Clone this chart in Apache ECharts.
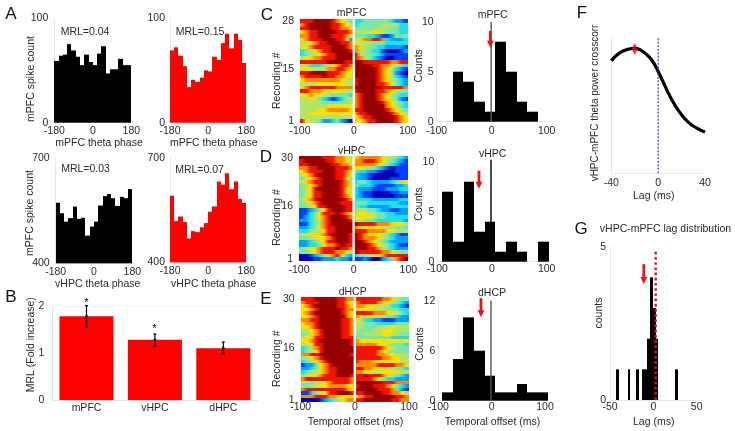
<!DOCTYPE html>
<html><head><meta charset="utf-8">
<style>html,body{margin:0;padding:0;background:#fff}#c{width:735px;height:431px}</style>
<script src="https://cdn.jsdelivr.net/npm/echarts@6/dist/echarts.min.js"></script>
</head><body><div id="c"></div>
<script>
// ---------- DATA ----------
const phaseEdges = [-180,-160,-140,-120,-100,-80,-60,-40,-20,0,20,40,60,80,100,120,140,160,180];
const a1Counts = [59,64,65,75,69,63,55,65,58,55,66,73,47,51,51,61,55,55];
const a2Counts = [69,72,64,54,34,41,39,43,50,49,63,60,76,85,71,85,79,57];
const a3Counts = [573,543,519,529,562,527,530,479,505,519,565,592,598,586,564,590,586,612];
const a4Counts = [592,519,532,516,469,490,487,501,513,546,561,633,624,657,611,633,583,571];
const mrlTexts = ['MRL=0.04','MRL=0.15','MRL=0.03','MRL=0.07'];

const bCategories = ['mPFC','vHPC','dHPC'];
const bValues = [1.775,1.277,1.10];
const bErrLow = [1.54,1.14,0.98];
const bErrHigh = [2.0,1.40,1.23];

const histCEdges = [-69.7,-51.5,-32.1,-12.7,6.7,26.1,45.5,64.8,83.6];
const histCCounts = [5,4,2,1,8,5,2,1];
const histDEdges = [-90.9,-71.3,-51.8,-32.9,-13.4,6.1,25.6,45.1,64.6,84.1,104.3];
const histDCounts = [7,2,8,3,4,1,2,1,0,2];
const histEEdges = [-92.5,-72.5,-53.1,-33.1,-13.1,6.9,26.9,46.9,66.9,86.9,106.3];
const histECounts = [1,5,10,6,3,1,1,2,1,1];

const fLags = [-40,-35,-30,-25,-20,-15,-10,-5,0,5,10,15,20,25,30,35,40];
const fCorr = [.824,.868,.895,.910,.915,.902,.871,.824,.745,.655,.565,.490,.428,.380,.346,.322,.302];

const gLeft = [-42.7,-29.6,-20,-13.5,-6.9,-3.5,0,3.1,25.4];
const gRight = [-39.6,-26.5,-16.9,-6.9,-3.5,0,3.1,5.8,28.5];
const gCounts = [1,1,1,1,2,4,3,2,1];

// heat levels: 0 deep blue ... 9 dark red; each row top to bottom, 12 cols before 0 and 12 after
const heatC = [
'888999987654 334444443221','789999988765 344444555533','889999988776 444445554433','678899998887 555566544433',
'778899988876 444332112444','678889998862 567788732223','556788999887 655544433333',
'667888899987 765443322221','345678899998 755433100012','345567889999 855443211111','566778889999 875432100111',
'888888999988 998888887788','553334567887 999988776543','666555778876 999998765321','889999888766 999998765210',
'788889887766 999998765321','677777777655 899998765432','555566666655 899998876432','678888887777 999999888887',
'887776666655 899998876544','667665544443 789998765433','556543212355 789998765421','555554444445 789999876543',
'555555666666 789999976543','555566777776 889999987654','556666666666 788999998765','555555555555 678899999876','865542234210 667889999876'];
const heatD = [
'999998887765 677777655432','899999887765 778887654321','889999988776 777776543211','778899998887 665543210111',
'678889998875 433221000111','567899998876 322100000011','456789998864 322100001111','567889999875 344322223456',
'456789999876 433321111223','456899999865 322211122233','456889999865 321100001122','456889999876 321100000111',
'567899999987 333322222233','456789999888 444333333322','445688999988 433222223333','112346899988 555443221122',
'113468889876 566554433222','123467899987 666654433333','223457899998 554443333332','113457899999 988887776665',
'223467889999 766666555444','334556889999 888777766555','556667899998 987666543211','445566789998 987776543222',
'223456889998 998765432222','223346778988 999876543211','456678889887 999887543222','445678887765 988888776544',
'001234678632 344566788888','000112223221 112100234789'];
const heatE = [
'888999998877 888888776544','788899998866 788887665432','678999998876 776665553321','667899999877 666655544433',
'678999999876 888877766543','667899999976 766655544322','778899999887 653322111222','677899999887 554443333444',
'667899999887 554445556555','556789999887 544455666555','456789999887 445555665544','566889999888 444444443333',
'667899999998 766666666666','556889999998 777776654443','345789999999 888888765444','345689999999 888887654444',
'778899999998 888887766555','456789999999 888888776655','345678999999 877766666655','122467899999 777778888776',
'223467889999 887766655443','345567889999 776655666655','456678889998 889888765432','788888888887 888876433222',
'544556788887 999999888777','445566777766 899988876432','788888888876 999998887421','113456889998 889999887765',
'777888776666 678899999887','000012345677 889999998877'];
const jet = ['#0000b4','#0040ff','#00a0ff','#20dfe8','#78e8a8','#b4e468','#ffe000','#ff8800','#ee1400','#960000'];

// arrows: [x, top value, tip value]
const arrowC = [-2.4,9.07,7.4], arrowD = [-23.8,9.1,7.3], arrowE = [-20,12.3,10], arrowG = [-11,4.43,3.78];

// ---------- HELPERS ----------
const FONT = '"Liberation Sans", Arial, sans-serif';
const TXT = '#2a2a2a', AX = '#e6e6e6', FS = 10.5;
const grid=[], xAxis=[], yAxis=[], series=[], graphic=[];

function panel(x0,x1,y0,y1,xo,yo){
  const i=grid.length;
  grid.push({left:x0,top:y0,width:x1-x0,height:y1-y0,containLabel:false});
  xAxis.push(Object.assign({gridIndex:i,type:'value',axisTick:{show:false},splitLine:{show:false},
    axisLine:{onZero:false,lineStyle:{color:AX}}},xo,{axisLabel:Object.assign({color:TXT,fontSize:FS,fontFamily:FONT,margin:3},xo.axisLabel||{})}));
  yAxis.push(Object.assign({gridIndex:i,type:'value',axisTick:{show:false},splitLine:{show:false},
    axisLine:{show:true,onZero:false,lineStyle:{color:AX}}},yo,{axisLabel:Object.assign({color:TXT,fontSize:FS,fontFamily:FONT,margin:5},yo.axisLabel||{})}));
  return i;
}
function text(t,x,y,o){
  o=o||{};
  graphic.push({type:'text',x:x,y:y,rotation:o.rot?Math.PI/2:0,z:50,
    style:{text:t,font:(o.size||FS)+'px '+FONT,fill:o.fill||TXT,textAlign:'center',textVerticalAlign:'middle'}});
}
function histRender(color){
  return function(p,api){
    const yb=p.coordSys.y+p.coordSys.height;
    const l=api.coord([api.value(0),api.value(2)]), r=api.coord([api.value(1),api.value(2)]);
    const x0=Math.round(l[0]), x1=Math.round(r[0]);
    return {type:'rect',shape:{x:x0,y:l[1],width:x1-x0,height:yb-l[1]},style:{fill:color}};
  };
}
function hist(i,edges,counts,color){
  series.push({type:'custom',xAxisIndex:i,yAxisIndex:i,clip:false,renderItem:histRender(color),
    encode:{x:[0,1],y:2},data:counts.map((c,k)=>[edges[k],edges[k+1],c])});
}
function vline(i,x,y0,y1,style,z){
  series.push({type:'line',xAxisIndex:i,yAxisIndex:i,symbol:'none',silent:true,z:z||5,clip:false,
    lineStyle:style,data:[[x,y0],[x,y1]]});
}
function arrow(i,a){
  series.push({type:'custom',xAxisIndex:i,yAxisIndex:i,clip:false,z:8,encode:{x:0,y:[1,2]},data:[a],
    renderItem:function(p,api){
      const s=api.coord([api.value(0),api.value(1)]), e=api.coord([api.value(0),api.value(2)]);
      const hl=7, sw=1.4, hw=3.4, c='#e8141c';
      return {type:'group',children:[
        {type:'rect',shape:{x:s[0]-sw,y:s[1],width:2*sw,height:e[1]-s[1]-hl+1},style:{fill:c}},
        {type:'polygon',shape:{points:[[e[0]-hw,e[1]-hl],[e[0]+hw,e[1]-hl],[e[0],e[1]]]},style:{fill:c}}]};
    }});
}
function mix(a,b){ // midpoint of two hex colours
  const p=h=>[1,3,5].map(k=>parseInt(h.substr(k,2),16));
  const A=p(a),B=p(b);
  return 'rgb('+A.map((v,k)=>Math.round((v+B[k])/2)).join(',')+')';
}
function heat(i,rows){
  const n=rows.length, data=[];
  rows.forEach((r,ri)=>{const s=r.replace(' ','');
    for(let c=0;c<s.length;c++){
      const L=+s[Math.max(c-1,0)], R=+s[Math.min(c+1,s.length-1)];
      data.push([-100+(c+.5)*200/s.length,n-ri,+s[c],200/s.length,L,R]);
    }});
  series.push({type:'custom',xAxisIndex:i,yAxisIndex:i,encode:{x:0,y:1},data:data,
    renderItem:function(p,api){
      const x=api.value(0),y=api.value(1),w=api.value(3)/2,v=jet[api.value(2)];
      const a=api.coord([x-w,y+.5]), b=api.coord([x+w,y-.5]);
      const x0=Math.round(a[0]),x1=Math.round(b[0]),y0=Math.round(a[1]),y1=Math.round(b[1]);
      return {type:'rect',shape:{x:x0,y:y0,width:x1-x0,height:y1-y0},
        style:{fill:{type:'linear',x:0,y:0,x2:1,y2:0,colorStops:[
          {offset:0,color:mix(jet[api.value(4)],v)},{offset:.5,color:v},{offset:1,color:mix(v,jet[api.value(5)])}]}}};
    }});
  vline(i,0,.5,n+.5,{color:'#fff',width:2.4},6);
}
const phaseX={min:-180,max:180,interval:180};

// ---------- PANEL A ----------
let i;
i=panel(54.3,131.3,18,122.7,phaseX,{min:0,max:100,interval:100,axisLabel:{margin:6,padding:[4,0,0,0]}}); hist(i,phaseEdges,a1Counts,'#000');
i=panel(170,246.3,18,122.7,phaseX,{min:0,max:100,interval:100,axisLabel:{margin:5,padding:[4,0,0,0]}}); hist(i,phaseEdges,a2Counts,'#ff0000');
i=panel(55.7,132.3,158.3,263.3,phaseX,{min:400,max:700,interval:300,axisLabel:{margin:6,padding:[6,0,0,0]}}); hist(i,phaseEdges,a3Counts,'#000');
i=panel(170,246.3,158.3,262.3,phaseX,{min:400,max:700,interval:300,axisLabel:{margin:5,padding:[6,0,0,0]}}); hist(i,phaseEdges,a4Counts,'#ff0000');
text(mrlTexts[0],85,32); text(mrlTexts[1],200,32); text(mrlTexts[2],85.5,169); text(mrlTexts[3],199.5,170);
text('mPFC spike count',31,79,{rot:1}); text('mPFC spike count',30,213,{rot:1});
text('mPFC theta phase',99,142.7); text('mPFC theta phase',213.7,143.3);
text('vHPC theta phase',97.7,283.7); text('vHPC theta phase',213.7,284);

// ---------- PANEL B ----------
i=grid.length;
grid.push({left:52.3,top:305.7,width:205.2,height:94.3});
xAxis.push({gridIndex:i,type:'category',data:bCategories,axisTick:{show:false},axisLine:{lineStyle:{color:AX}},
  axisLabel:{color:TXT,fontSize:FS,fontFamily:FONT,margin:3}});
yAxis.push({gridIndex:i,type:'value',min:0,max:2,interval:1,axisTick:{show:false},axisLine:{show:true,lineStyle:{color:AX}},
  splitLine:{show:true,lineStyle:{color:'#f3f3f3'}},axisLabel:{color:TXT,fontSize:FS,fontFamily:FONT,margin:8,padding:[3,0,0,0]}});
series.push({type:'bar',xAxisIndex:i,yAxisIndex:i,barWidth:54,data:bValues,itemStyle:{color:'#ff0000'}});
series.push({type:'custom',xAxisIndex:i,yAxisIndex:i,z:5,clip:false,encode:{x:0,y:[1,2]},
  data:bCategories.map((c,k)=>[k,bErrLow[k],bErrHigh[k],bValues[k]]),
  renderItem:function(p,api){
    const a=api.coord([api.value(0),api.value(1)]), b=api.coord([api.value(0),api.value(2)]), m=api.coord([api.value(0),api.value(3)]);
    const st={stroke:'#000',lineWidth:1.2};
    return {type:'group',children:[
      {type:'line',shape:{x1:a[0],y1:a[1],x2:b[0],y2:b[1]},style:st},
      {type:'line',shape:{x1:a[0]-1.5,y1:a[1],x2:a[0]+1.5,y2:a[1]},style:st},
      {type:'line',shape:{x1:b[0]-1.5,y1:b[1],x2:b[0]+1.5,y2:b[1]},style:st},
      {type:'circle',shape:{cx:m[0],cy:m[1],r:1.3},style:{fill:'#000'}}]};
  }});
text('*',86.3,303,{fill:'#000',size:11}); text('*',154.3,329,{fill:'#000',size:11});
text('MRL (Fold increase)',30.7,344.7,{rot:1});

// ---------- HEATMAPS ----------
const heatX={min:-100,max:100,interval:100};
function rowAxis(labels,n,margin){return {min:.5,max:n+.5,axisLine:{show:false,onZero:false},axisLabel:{customValues:labels,margin:margin}};}
i=panel(300,407.7,19.3,122.7,heatX,rowAxis([1,15,28],28,6)); heat(i,heatC);
i=panel(299,408.3,156,260.7,Object.assign({},heatX,{axisLabel:{margin:4}}),rowAxis([1,16,30],30,6)); heat(i,heatD);
i=panel(300.7,409,297.3,401.7,Object.assign({},heatX,{axisLabel:{margin:0}}),rowAxis([1,16,30],30,6)); heat(i,heatE);
text('mPFC',351.7,13.3); text('vHPC',351.7,150.7); text('dHCP',352.7,291.7);
text('Recording #',276.7,80.8,{rot:1}); text('Recording #',276.7,217.5,{rot:1}); text('Recording #',277,358.8,{rot:1});
text('Temporal offset (ms)',355.5,422.3);

// ---------- COUNT HISTOGRAMS ----------
i=panel(436.7,546.7,21.7,121.7,{min:-100,max:100,interval:100,axisLabel:{margin:4}},{min:0,max:10,interval:5,axisLabel:{margin:3}});
hist(i,histCEdges,histCCounts,'#000'); vline(i,-1,0,10,{color:'#555',width:1.4}); arrow(i,arrowC);
i=panel(437.3,546.7,161.7,261.7,{min:-100,max:100,interval:100,axisLabel:{margin:2}},{min:0,max:10,interval:5,axisLabel:{margin:3}});
hist(i,histDEdges,histDCounts,'#000'); vline(i,-1.8,0,10.2,{color:'#000',width:1.4}); arrow(i,arrowD);
i=panel(438.3,545,300.7,400.7,{min:-100,max:100,interval:100,axisLabel:{margin:1}},{min:0,max:12,interval:6,axisLabel:{margin:3}});
hist(i,histEEdges,histECounts,'#000'); vline(i,-1.25,0,12,{color:'#555',width:1.4}); arrow(i,arrowE);
text('mPFC',492.7,15.3); text('vHPC',492.7,154); text('dHCP',492,293.3);
text('Counts',419.3,65.8,{rot:1}); text('Counts',419.3,204,{rot:1}); text('Counts',420,344,{rot:1});
text('Temporal offset (ms)',492.5,421.7);

// ---------- PANEL F ----------
i=panel(611.3,705,36.7,173.3,{min:-40,max:40,interval:40,axisLabel:{margin:4}},{min:0,max:1,axisLabel:{show:false}});
series.push({type:'line',xAxisIndex:i,yAxisIndex:i,smooth:true,symbol:'none',z:4,
  lineStyle:{color:'#000',width:3.2},data:fLags.map((l,k)=>[l,fCorr[k]])});
vline(i,0,0,1,{color:'#3434b4',width:1.2,type:[2,1.5]},6);
series.push({type:'scatter',xAxisIndex:i,yAxisIndex:i,symbol:'diamond',symbolSize:[6,12],z:7,itemStyle:{color:'#f00010'},data:[[-20,.91]]});
text('vHPC-mPFC theta power crosscorr',595,103,{rot:1,size:10});
text('Lag (ms)',653.7,196);

// ---------- PANEL G ----------
i=panel(610,696.7,246.7,400,{min:-50,max:50,interval:50,axisLabel:{margin:2}},{min:0,max:5,interval:5,axisLabel:{margin:4}});
series.push({type:'custom',xAxisIndex:i,yAxisIndex:i,clip:false,renderItem:histRender('#000'),encode:{x:[0,1],y:2},
  data:gCounts.map((c,k)=>[gLeft[k],gRight[k],c])});
vline(i,2.7,0,4.91,{color:'#e0102a',width:2.4,type:[2.6,2.6]},6); arrow(i,arrowG);
text('vHPC-mPFC lag distribution',665.5,229);
text('counts',599,313,{rot:1});
text('Lag (ms)',653.7,422.3);

// ---------- PANEL LETTERS ----------
[['A',11,14],['B',11,297],['C',267,15],['D',266,157.7],['E',266,299],['F',582,13],['G',581,229]]
  .forEach(l=>text(l[0],l[1],l[2],{size:17,fill:'#111'}));

echarts.init(document.getElementById('c'),null,{renderer:'canvas'}).setOption({
  animation:false,backgroundColor:'#fff',grid,xAxis,yAxis,series,graphic:{elements:graphic}
});
</script></body></html>
